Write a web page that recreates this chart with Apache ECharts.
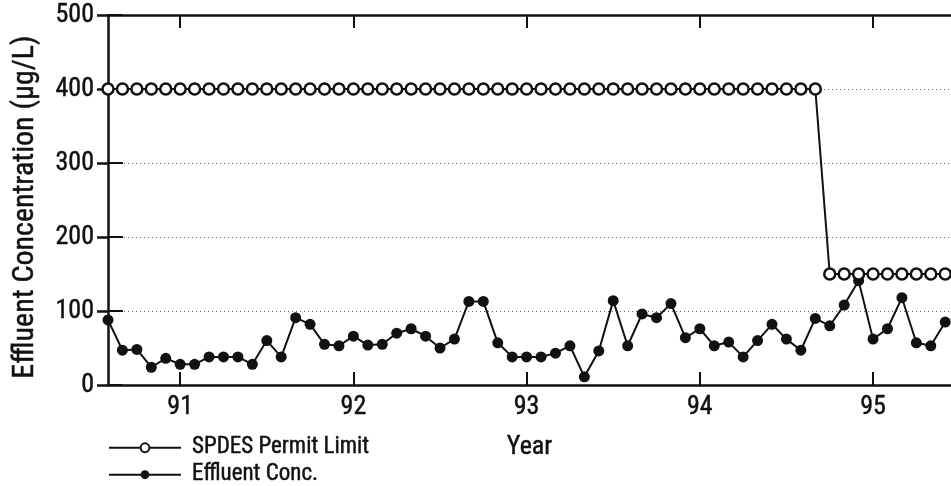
<!DOCTYPE html>
<html>
<head>
<meta charset="utf-8">
<script src="https://cdn.jsdelivr.net/npm/echarts@6/dist/echarts.min.js"></script>
<style>
html,body{margin:0;padding:0;background:#fff;}
#chart{width:951px;height:486px;}
</style>
</head>
<body>
<div id="chart"></div>
<script>
// Monthly observations, Aug 1990 .. Jun 1995
const months = [
  '1990-08','1990-09','1990-10','1990-11','1990-12',
  '1991-01','1991-02','1991-03','1991-04','1991-05','1991-06','1991-07','1991-08','1991-09','1991-10','1991-11','1991-12',
  '1992-01','1992-02','1992-03','1992-04','1992-05','1992-06','1992-07','1992-08','1992-09','1992-10','1992-11','1992-12',
  '1993-01','1993-02','1993-03','1993-04','1993-05','1993-06','1993-07','1993-08','1993-09','1993-10','1993-11','1993-12',
  '1994-01','1994-02','1994-03','1994-04','1994-05','1994-06','1994-07','1994-08','1994-09','1994-10','1994-11','1994-12',
  '1995-01','1995-02','1995-03','1995-04','1995-05','1995-06'
];
const permitLimit = [
  400,400,400,400,400,
  400,400,400,400,400,400,400,400,400,400,400,400,
  400,400,400,400,400,400,400,400,400,400,400,400,
  400,400,400,400,400,400,400,400,400,400,400,400,
  400,400,400,400,400,400,400,400,400,150,150,150,
  150,150,150,150,150,150
];
const effluent = [
  88,47,48,24,36,
  28,28,38,38,38,28,60,38,91,82,55,53,
  66,54,55,70,76,66,50,62,113,113,57,38,
  38,38,43,53,11,46,114,53,96,91,110,64,
  76,53,58,38,60,82,62,47,90,80,108,141,
  62,76,118,57,53,85
];
const yearTickIndex = [5, 17, 29, 41, 53];
const yearTickLabels = ['91', '92', '93', '94', '95'];
const yTicks = [0, 100, 200, 300, 400, 500];

const FONT = "'Roboto Condensed', 'DejaVu Sans Condensed', sans-serif";
const TB = {textBorderColor: '#111', textBorderWidth: 0.45};

const effData = effluent.map((v, i) => [i, v]);
const permitData = permitLimit.map((v, i) => [i, v]);

const chart = echarts.init(document.getElementById('chart'), null, {renderer: 'canvas'});
chart.setOption({
  backgroundColor: '#fff',
  animation: false,
  grid: {left: 108, right: 0, top: 15, bottom: 101, containLabel: false},
  xAxis: [{
    type: 'value', position: 'bottom', min: 0, max: 58.4,
    name: 'Year', nameLocation: 'middle', nameGap: 49,
    nameTextStyle: Object.assign({fontFamily: FONT, fontSize: 26, color: '#111'}, TB),
    axisLine: {show: true, onZero: false, lineStyle: {color: '#111', width: 2.5}},
    axisTick: {show: true, inside: true, length: 13, customValues: yearTickIndex, lineStyle: {color: '#111', width: 2}},
    axisLabel: Object.assign({show: true, customValues: yearTickIndex, margin: 9,
      formatter: v => yearTickLabels[yearTickIndex.indexOf(Math.round(v))] || '',
      fontFamily: FONT, fontSize: 26, color: '#111'}, TB),
    splitLine: {show: false}
  }, {
    type: 'value', position: 'top', min: 0, max: 58.4,
    axisLine: {show: true, onZero: false, lineStyle: {color: '#111', width: 2.5}},
    axisTick: {show: true, inside: true, length: 13, customValues: yearTickIndex, lineStyle: {color: '#111', width: 2}},
    axisLabel: {show: false},
    splitLine: {show: false}
  }],
  yAxis: [{
    type: 'value', position: 'left', min: 0, max: 500, interval: 100,
    axisLine: {show: true, onZero: false, lineStyle: {color: '#111', width: 2.5}},
    axisTick: {show: true, inside: true, length: 15, lineStyle: {color: '#111', width: 2}},
    axisLabel: Object.assign({margin: 14, fontFamily: FONT, fontSize: 26, color: '#111',
      formatter: v => yTicks.indexOf(v) >= 0 ? String(v) : ''}, TB),
    splitLine: {show: true, lineStyle: {color: '#666', width: 1, type: [1, 3]}}
  }, {
    type: 'value', position: 'right', min: 0, max: 500, interval: 100,
    axisLine: {show: false},
    axisTick: {show: true, inside: true, length: 11, lineStyle: {color: '#111', width: 2.5}},
    axisLabel: {show: false},
    splitLine: {show: false}
  }],
  legend: [{
    orient: 'horizontal', left: 103, top: 431,
    itemWidth: 72, itemHeight: 11,
    data: ['SPDES Permit Limit'],
    textStyle: Object.assign({fontFamily: FONT, fontSize: 23, color: '#111', padding: [0, 0, 0, 6]}, TB)
  }, {
    orient: 'horizontal', left: 103, top: 458,
    itemWidth: 72, itemHeight: 11,
    data: ['Effluent Conc.'],
    textStyle: Object.assign({fontFamily: FONT, fontSize: 23, color: '#111', padding: [0, 0, 0, 6]}, TB)
  }],
  graphic: [{
    type: 'text', x: 25, y: 207, rotation: Math.PI / 2,
    style: {text: 'Effluent Concentration (\u00b5g/L)', fontFamily: FONT, fontSize: 30, fill: '#111',
      stroke: '#111', lineWidth: 0.45, align: 'center', verticalAlign: 'middle'}
  }],
  series: [{
    name: 'Effluent Conc.', type: 'line', xAxisIndex: 0, yAxisIndex: 0,
    data: effData, symbol: 'circle', symbolSize: 11, showSymbol: true,
    lineStyle: {color: '#111', width: 2},
    itemStyle: {color: '#111', borderColor: '#111', borderWidth: 0},
    z: 3
  }, {
    name: 'SPDES Permit Limit', type: 'line', xAxisIndex: 0, yAxisIndex: 0,
    data: permitData, symbol: 'circle', symbolSize: 11, showSymbol: true,
    lineStyle: {color: '#111', width: 2},
    itemStyle: {color: '#fff', borderColor: '#111', borderWidth: 2.5},
    z: 4
  }]
});
</script>
</body>
</html>
